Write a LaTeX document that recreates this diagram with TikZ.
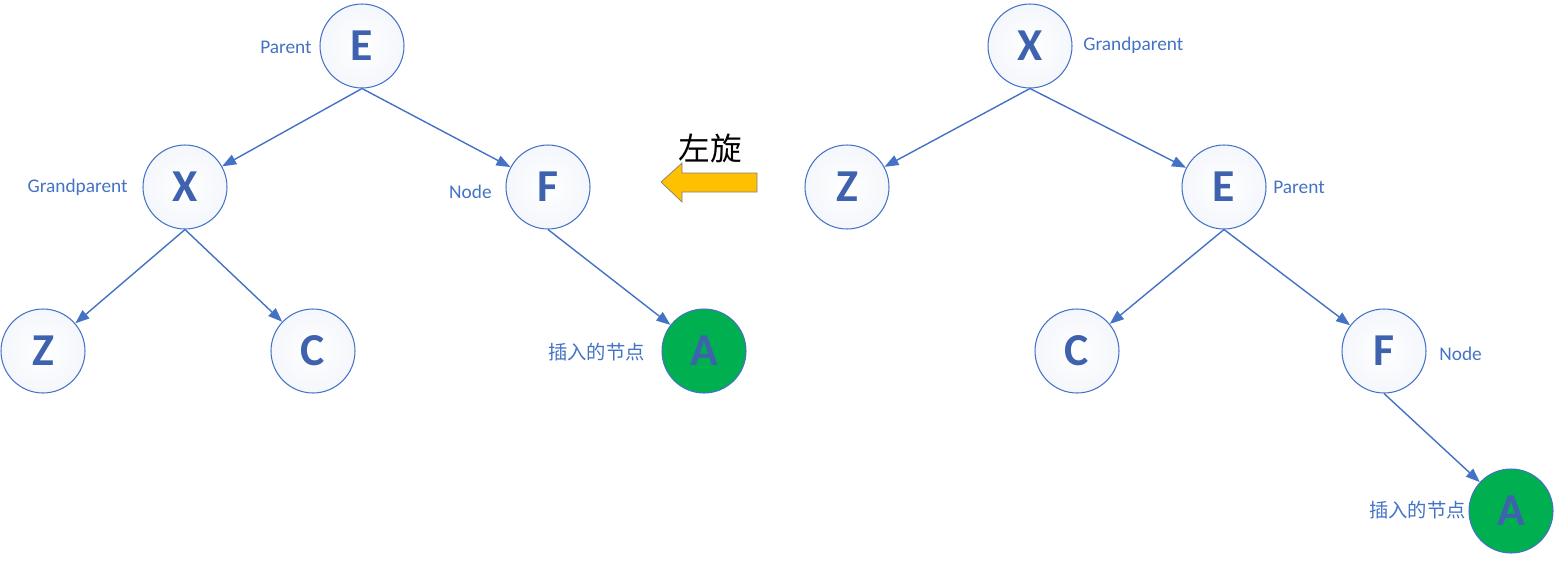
\documentclass[tikz,border=0pt]{standalone}
\usepackage{fontspec}
\setmainfont{Carlito}
\newfontfamily\cjkfont{Noto Sans CJK SC}
\usetikzlibrary{arrows.meta,shadings}
\definecolor{lineblue}{HTML}{4472C4}
\definecolor{letterblue}{HTML}{3E62AE}
\definecolor{newgreen}{HTML}{00B050}
\definecolor{rotgold}{HTML}{FFC000}
\tikzset{
  tnode/.style={circle, draw=lineblue, line width=0.6pt, minimum size=1.68cm,
    inner color=white, outer color=lineblue!6, text=letterblue,
    font=\fontsize{26}{26}\selectfont\bfseries},
  newnode/.style={tnode, fill=newgreen, inner color=newgreen, outer color=newgreen},
  lbl/.style={text=lineblue, font=\fontsize{11}{13}\selectfont, inner sep=0pt},
  cjklbl/.style={lbl, font=\fontsize{11}{13}\selectfont\cjkfont},
  edge/.style={-{Triangle[length=8pt,width=6pt]}, draw=lineblue, line width=0.8pt}
}
\begin{document}
\begin{tikzpicture}[x=0.02cm, y=-0.02cm]
    \useasboundingbox (0,0) rectangle (1555,565);

    % left tree
    \node (lE) [tnode] at (362,46) {E};
    \node (lX) [tnode] at (185,187) {X};
    \node (lF) [tnode] at (548,187) {F};
    \node (lZ) [tnode] at (43,351) {Z};
    \node (lC) [tnode] at (313,351) {C};
    \node (lA) [newnode] at (704,351) {A};

    \node (lPar) [lbl, anchor=east] at (312,47) {Parent};
    \node (lGra) [lbl, anchor=east] at (128,187) {Grandparent};
    \node (lNod) [lbl, anchor=east] at (492,192) {Node};
    \node (lIns) [cjklbl, anchor=east] at (645,352) {插入的节点};

    \draw[edge] (lE.south) -- (lX);
    \draw[edge] (lE.south) -- (lF);
    \draw[edge] (lX.south) -- (lZ);
    \draw[edge] (lX.south) -- (lC);
    \draw[edge] (lF.south) -- (lA);

    % rotation arrow
    \draw[fill=rotgold, draw=gray, line width=0.4pt]
        (757,173) -- (682,173) -- (682,163) -- (661,182) -- (682,202)
        -- (682,192) -- (757,192) -- cycle;
    \node (rot) [font=\fontsize{18}{18}\selectfont\cjkfont] at (710,148) {左旋};

    % right tree
    \node (rX) [tnode] at (1030,46) {X};
    \node (rZ) [tnode] at (847,187) {Z};
    \node (rE) [tnode] at (1224,187) {E};
    \node (rC) [tnode] at (1077,351) {C};
    \node (rF) [tnode] at (1384,351) {F};
    \node (rA) [newnode] at (1511,511) {A};

    \node (rGra) [lbl, anchor=west] at (1083,45) {Grandparent};
    \node (rPar) [lbl, anchor=west] at (1273,187) {Parent};
    \node (rNod) [lbl, anchor=west] at (1439,354) {Node};
    \node (rIns) [cjklbl, anchor=east] at (1466,510) {插入的节点};

    \draw[edge] (rX.south) -- (rZ);
    \draw[edge] (rX.south) -- (rE);
    \draw[edge] (rE.south) -- (rC);
    \draw[edge] (rE.south) -- (rF);
    \draw[edge] (rF.south) -- (rA);
\end{tikzpicture}
\end{document}
